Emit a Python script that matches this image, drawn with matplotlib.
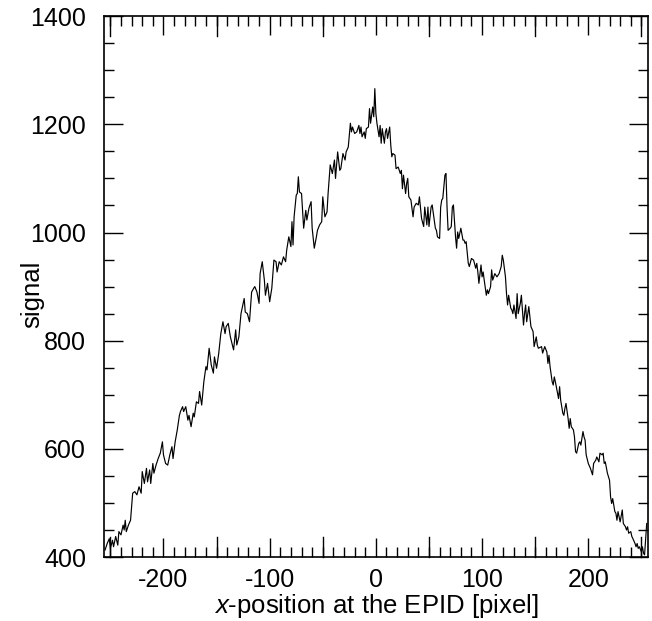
import matplotlib
matplotlib.use("Agg")
import matplotlib.pyplot as plt
from matplotlib.ticker import MultipleLocator

plt.rcParams['font.family'] = ['Liberation Sans', 'DejaVu Sans']
plt.rcParams['mathtext.fontset'] = 'custom'
plt.rcParams['mathtext.it'] = 'Liberation Sans:italic'
plt.rcParams['mathtext.rm'] = 'Liberation Sans'
plt.rcParams['axes.unicode_minus'] = False

# profile (x in pixel, signal in counts)
pos_left = [-255, -253, -251, -250, -248, -247, -245, -243, -242, -240, -238, -237, -236, -235,
            -233, -231, -229, -227, -225, -223, -221, -220, -218, -216, -215, -213, -212, -210,
            -209, -207, -205, -203, -201, -200, -198, -196, -194, -192, -191, -189, -187, -185,
            -184, -182, -181, -179, -177, -176, -174, -172, -171, -169, -167, -166, -164, -162,
            -160, -159, -157, -155]
sig_left = [413, 425, 434, 416, 431, 419, 438, 422, 447, 441, 459, 450, 468, 447,
            459, 468, 518, 521, 515, 530, 518, 558, 536, 564, 539, 561, 536, 573,
            555, 570, 582, 592, 613, 589, 573, 570, 589, 604, 582, 613, 635, 662,
            669, 678, 669, 678, 653, 662, 641, 666, 659, 687, 684, 706, 681, 724,
            752, 746, 786, 755]

pos_rise = [-153, -152, -150, -148, -146, -144, -142, -141, -139, -137, -134, -132, -131, -129,
            -127, -125, -124, -123, -121, -119, -117, -115, -114, -112, -110, -109, -107, -105,
            -104, -102, -100, -98, -96, -94, -93, -91, -89, -87, -85, -84, -82, -80,
            -79, -78, -77, -75, -74, -73, -72, -70, -68, -66, -65, -63, -61, -60,
            -58, -56, -55, -53, -51]
sig_rise = [740, 770, 749, 776, 813, 835, 813, 826, 832, 807, 783, 820, 792, 807,
            850, 869, 878, 853, 850, 835, 890, 897, 900, 890, 869, 924, 946, 912,
            884, 906, 872, 897, 949, 946, 927, 946, 940, 955, 946, 967, 992, 974,
            1020, 977, 1029, 1069, 1072, 1103, 1075, 1072, 1008, 1041, 1023, 1045, 1057, 1008,
            971, 992, 1004, 1014, 1020]

pos_peak = [-50, -48, -46, -45, -43, -41, -39, -38, -36, -34, -33, -31, -29, -28,
            -26, -24, -23, -22, -20, -18, -16, -15, -14, -13, -11, -10, -9, -7,
            -6, -5, -3, -2, -1, 0, 1, 3, 4, 5, 6, 8, 9, 10,
            11, 13, 14, 15, 16, 18, 19, 21, 23, 24, 25, 26, 28, 29,
            30, 31, 33, 35, 36, 38, 40, 41, 43, 45, 46, 48, 49, 50]
sig_peak = [1066, 1029, 1038, 1072, 1125, 1109, 1134, 1100, 1149, 1115, 1118, 1146, 1134, 1149,
            1158, 1202, 1186, 1195, 1183, 1186, 1198, 1183, 1195, 1177, 1186, 1174, 1192, 1195,
            1229, 1202, 1232, 1214, 1266, 1220, 1202, 1177, 1198, 1165, 1192, 1165, 1186, 1192,
            1174, 1195, 1162, 1140, 1146, 1143, 1118, 1121, 1109, 1115, 1081, 1106, 1072, 1091,
            1100, 1066, 1060, 1029, 1047, 1054, 1051, 1066, 1026, 1011, 1047, 1014, 1047, 1011]

pos_fall = [52, 53, 55, 56, 57, 58, 60, 61, 62, 63, 65, 66, 67, 68,
            70, 71, 72, 73, 75, 76, 77, 78, 80, 82, 83, 84, 85, 87,
            88, 90, 92, 94, 95, 96, 97, 99, 100, 101, 102, 104, 105, 106,
            108, 109, 110, 112, 114, 116, 118, 119, 120, 122, 123, 124, 125, 127,
            128, 129, 130, 132, 133, 134, 136, 137, 139, 140, 141, 142, 144, 145,
            146, 148, 149, 151, 152, 153]
sig_fall = [1047, 1051, 1023, 1008, 1004, 992, 989, 1047, 1060, 1063, 1106, 1109, 1047, 1004,
            1008, 1011, 1047, 1051, 992, 971, 1001, 989, 1008, 986, 986, 980, 983, 943,
            937, 952, 949, 934, 943, 927, 906, 940, 918, 927, 912, 884, 894, 887,
            900, 931, 912, 924, 918, 924, 937, 958, 949, 918, 887, 866, 884, 860,
            857, 850, 866, 841, 887, 850, 869, 884, 829, 850, 866, 835, 863, 844,
            826, 817, 789, 807, 792, 786]

pos_tail = [156, 157, 159, 161, 162, 163, 164, 166, 167, 168, 169, 171, 172, 173,
            174, 176, 177, 178, 179, 181, 182, 183, 184, 186, 187, 188, 189, 191,
            192, 193, 195, 196, 197, 198, 200, 202, 204, 205, 207, 208, 210, 211,
            213, 214, 215, 216, 218, 220, 221, 222, 223, 225, 226, 227, 228, 230,
            232, 233, 235, 236, 237, 238, 240, 241, 242, 244, 245, 246, 247, 248,
            250, 251, 252, 253, 255]
sig_tail = [789, 777, 789, 779, 758, 773, 752, 724, 718, 733, 724, 703, 693, 715,
            690, 666, 662, 675, 684, 656, 638, 656, 641, 635, 622, 595, 592, 610,
            613, 607, 632, 622, 616, 589, 573, 564, 552, 573, 579, 585, 576, 592,
            589, 592, 573, 576, 555, 542, 511, 499, 508, 484, 481, 468, 484, 465,
            487, 462, 456, 450, 456, 444, 447, 438, 434, 425, 419, 425, 416, 419,
            410, 419, 407, 404, 462]

pixel = pos_left + pos_rise + pos_peak + pos_fall + pos_tail
signal = sig_left + sig_rise + sig_peak + sig_fall + sig_tail

fig = plt.figure(figsize=(6.52, 6.21), dpi=100)
ax = fig.add_axes([0.1595, 0.103, 0.834, 0.871])

ax.plot(pixel, signal, color='black', lw=0.85)

ax.set_xlim(-256, 256)
ax.set_ylim(400, 1400)
ax.xaxis.set_major_locator(MultipleLocator(100))
ax.xaxis.set_minor_locator(MultipleLocator(10))
ax.yaxis.set_major_locator(MultipleLocator(200))
ax.yaxis.set_minor_locator(MultipleLocator(50))

ax.tick_params(which='both', direction='in', top=True, right=True, width=1, labelsize=18)
ax.tick_params(which='major', length=14)
ax.tick_params(which='minor', length=7)
ax.tick_params(axis='x', pad=8)
ax.tick_params(axis='y', pad=13)

# longer ticks every 50 pixels on x, as in the original
for xv in [-250, -150, -50, 50, 150, 250]:
    for yv, sgn in [(400, 1), (1400, -1)]:
        ax.plot([xv, xv], [yv, yv + sgn * 37], color='black', lw=1, clip_on=False)

for s in ax.spines.values():
    s.set_linewidth(1.2)

ax.set_xlabel(r'$x$-position at the EPID [pixel]', fontsize=18.5, labelpad=0)
ax.set_ylabel('signal', fontsize=18.5, va='center')
ax.yaxis.set_label_coords(-0.132, 0.485)

fig.savefig('out.png', dpi=100)
